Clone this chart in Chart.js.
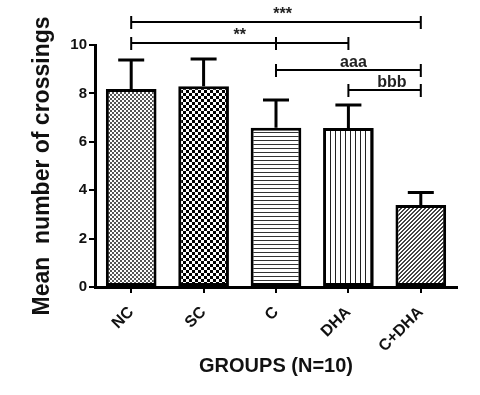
<!DOCTYPE html>
<html>
<head>
<meta charset="utf-8">
<script src="https://cdn.jsdelivr.net/npm/chart.js@4.4.0/dist/chart.umd.min.js"></script>
<style>
    body { margin: 0; background: #fff; }
</style>
</head>
<body>
<canvas id="crossChart" width="480" height="395"></canvas>
<script>
// data
const groups = ['NC', 'SC', 'C', 'DHA', 'C+DHA'];
const meanCrossings = [8.18, 8.3, 6.58, 6.57, 3.39];
const semCrossings = [1.2, 1.12, 1.15, 0.95, 0.51];
const yTicks = [0, 2, 4, 6, 8, 10];

// significance bars: from/to are group indices, level is in y units
const brackets = [
    { from: 0, to: 4, mid: null, level: 10.95, label: '***', labelAt: 2.09 },
    { from: 0, to: 3, mid: 2, level: 10.08, label: '**', labelAt: 1.5 },
    { from: 2, to: 4, mid: null, level: 8.97, label: 'aaa', labelAt: 3.07 },
    { from: 3, to: 4, mid: null, level: 8.14, label: 'bbb', labelAt: 3.6 }
];

const canvas = document.getElementById('crossChart');
const ctx = canvas.getContext('2d');
const FONT = '"Liberation Sans", Arial, sans-serif';

function makePattern(size, draw) {
    const c = document.createElement('canvas');
    c.width = size;
    c.height = size;
    const g = c.getContext('2d');
    g.fillStyle = '#fff';
    g.fillRect(0, 0, size, size);
    draw(g, size);
    return ctx.createPattern(c, 'repeat');
}

// fill patterns like the original (fine dots, checks, lines, hatch)
const fills = [
    makePattern(4, g => { g.fillStyle = '#555'; g.fillRect(0, 0, 2, 2); g.fillRect(2, 2, 2, 2); }),
    makePattern(6, g => { g.fillStyle = '#000'; g.fillRect(0, 0, 3, 3); g.fillRect(3, 3, 3, 3); }),
    makePattern(4, g => { g.fillStyle = '#333'; g.fillRect(0, 0, 4, 1); }),
    makePattern(5, g => { g.fillStyle = '#222'; g.fillRect(0, 0, 1, 5); }),
    makePattern(4, (g, s) => {
        g.fillStyle = '#444';
        for (let px = 0; px < s; px++) {
            for (let py = 0; py < s; py++) {
                const k = (px + py) % 4;
                if (k === 0 || k === 1) g.fillRect(px, py, 1, 1);
            }
        }
    })
];

const annotationPlugin = {
    id: 'errorsAndBrackets',
    afterDatasetsDraw(chart) {
        const { ctx, scales: { x, y } } = chart;
        const meta = chart.getDatasetMeta(0);
        ctx.save();
        ctx.strokeStyle = '#000';
        ctx.lineWidth = 3;
        meta.data.forEach((bar, i) => {
            const top = y.getPixelForValue(meanCrossings[i] + semCrossings[i]);
            ctx.beginPath();
            ctx.moveTo(bar.x, bar.y);
            ctx.lineTo(bar.x, top);
            ctx.moveTo(bar.x - 13, top);
            ctx.lineTo(bar.x + 13, top);
            ctx.stroke();
        });
        ctx.restore();
    },
    afterDraw(chart) {
        const { ctx, scales: { x, y } } = chart;
        ctx.save();
        ctx.strokeStyle = '#000';
        ctx.fillStyle = '#222';
        ctx.lineWidth = 2;
        ctx.font = 'bold 16px ' + FONT;
        ctx.textAlign = 'center';
        ctx.textBaseline = 'alphabetic';
        brackets.forEach(b => {
            const yy = y.getPixelForValue(b.level);
            const x1 = x.getPixelForValue(b.from);
            const x2 = x.getPixelForValue(b.to);
            ctx.beginPath();
            ctx.moveTo(x1, yy);
            ctx.lineTo(x2, yy);
            [x1, x2].concat(b.mid !== null ? [x.getPixelForValue(b.mid)] : []).forEach(px => {
                ctx.moveTo(px, yy - 6);
                ctx.lineTo(px, yy + 7);
            });
            ctx.stroke();
            ctx.fillText(b.label, x.getPixelForValue(b.labelAt), yy - 3);
        });
        ctx.restore();
    }
};

const chart = new Chart(ctx, {
    type: 'bar',
    data: {
        labels: groups,
        datasets: [{
            data: meanCrossings,
            backgroundColor: fills,
            borderColor: '#000',
            borderWidth: 3,
            borderSkipped: false,
            categoryPercentage: 1,
            barPercentage: 0.7
        }]
    },
    options: {
        responsive: false,
        animation: false,
        layout: { padding: { top: 45, right: 23, left: 0, bottom: 0 } },
        plugins: {
            legend: { display: false },
            tooltip: { enabled: false }
        },
        scales: {
            x: {
                afterFit(scale) { scale.height = 108; },
                grid: {
                    offset: false,
                    drawOnChartArea: false,
                    color: '#000',
                    lineWidth: 2,
                    tickLength: 6
                },
                border: { color: '#000', width: 3 },
                ticks: {
                    color: '#111',
                    font: { family: FONT, size: 16, weight: 'bold' },
                    maxRotation: 45,
                    minRotation: 45,
                    padding: 10
                },
                title: {
                    display: true,
                    text: 'GROUPS (N=10)',
                    color: '#111',
                    font: { family: FONT, size: 20, weight: 'bold' },
                    padding: { top: 0, bottom: 17 }
                }
            },
            y: {
                min: 0,
                max: 10,
                afterFit(scale) { scale.width = 95; },
                afterBuildTicks(scale) { scale.ticks = yTicks.map(v => ({ value: v })); },
                grid: {
                    drawOnChartArea: false,
                    color: '#000',
                    lineWidth: 2,
                    tickLength: 6
                },
                border: { color: '#000', width: 3 },
                ticks: {
                    color: '#111',
                    font: { family: FONT, size: 15, weight: 'bold' },
                    padding: 2
                },
                title: {
                    display: true,
                    text: 'Mean  number of crossings',
                    color: '#111',
                    font: { family: FONT, size: 23, weight: 'bold' },
                    padding: { top: 29, bottom: 0 }
                }
            }
        }
    },
    plugins: [annotationPlugin]
});
</script>
</body>
</html>
